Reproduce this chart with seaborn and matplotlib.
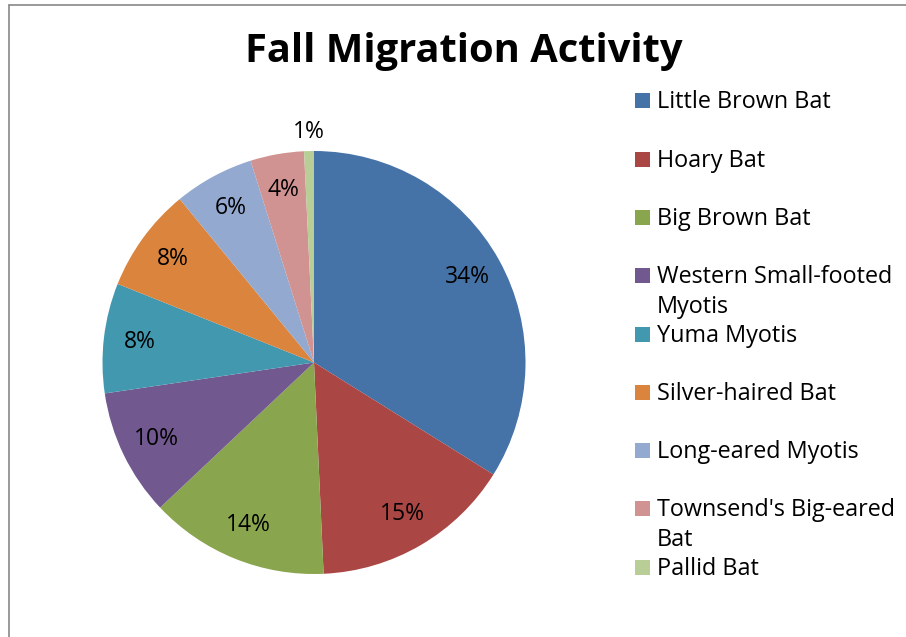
import textwrap
import numpy as np
import matplotlib
matplotlib.use("Agg")
import matplotlib.pyplot as plt
from matplotlib.patches import Rectangle
from matplotlib.lines import Line2D
import seaborn as sns

# ---- data ----
title = "Fall Migration Activity"
species = ["Little Brown Bat", "Hoary Bat", "Big Brown Bat",
           "Western Small-footed Myotis", "Yuma Myotis", "Silver-haired Bat",
           "Long-eared Myotis", "Townsend's Big-eared Bat", "Pallid Bat"]
shares = [33.9, 15.4, 13.7, 9.7, 8.4, 8.0, 6.1, 4.1, 0.75]
colors = ["#4572A7", "#AA4643", "#89A54E", "#71588F", "#4198AF",
          "#DB843D", "#93A9CF", "#D19392", "#B9CD96"]

sns.set_theme(style="white")
plt.rcParams["font.family"] = ["Open Sans", "DejaVu Sans"]

W, H = 906, 637
fig = plt.figure(figsize=(W / 100, H / 100), dpi=100)
fig.patch.set_facecolor("white")

def fx(x):
    return x / W

def fy(y):
    return 1 - y / H

# frame (left & top borders)
fig.add_artist(Line2D([fx(8.5), fx(8.5)], [fy(5), 0], color="#888888", lw=1.2))
fig.add_artist(Line2D([fx(8.5), 1], [fy(5), fy(5)], color="#888888", lw=1.2))

cx, cy, r = 314, 362.5, 211.5
ax = fig.add_axes([fx(cx - r), fy(cy + r), 2 * r / W, 2 * r / H])
wedges, texts, autotexts = ax.pie(
    shares, colors=colors, startangle=90, counterclock=False,
    autopct="%.0f%%", pctdistance=0.83,
    wedgeprops=dict(edgecolor="none", linewidth=0),
    textprops=dict(fontsize=16.5, color="black"))
ax.set_xlim(-1, 1)
ax.set_ylim(-1, 1)
ax.axis("off")

# smallest slice: label outside
w = wedges[-1]
mid = np.deg2rad((w.theta1 + w.theta2) / 2)
autotexts[-1].set_position((1.09 * np.cos(mid), 1.09 * np.sin(mid)))

fig.text(fx(463.5), fy(62), title, ha="center", va="baseline",
         fontsize=28.7, fontweight="bold", color="black")

# legend
y0, step, line_h = 100.8, 58.3, 30
for i, (name, col) in enumerate(zip(species, colors)):
    yc = y0 + i * step
    fig.add_artist(Rectangle((fx(635), fy(yc + 7.5)), 15 / W, 15 / H,
                             facecolor=col, edgecolor="none"))
    for k, line in enumerate(textwrap.wrap(name, 20)):
        fig.text(fx(657), fy(yc + 7.5 + k * line_h), line, ha="left",
                 va="baseline", fontsize=16.8, color="black")

fig.savefig("out.png", dpi=100)
